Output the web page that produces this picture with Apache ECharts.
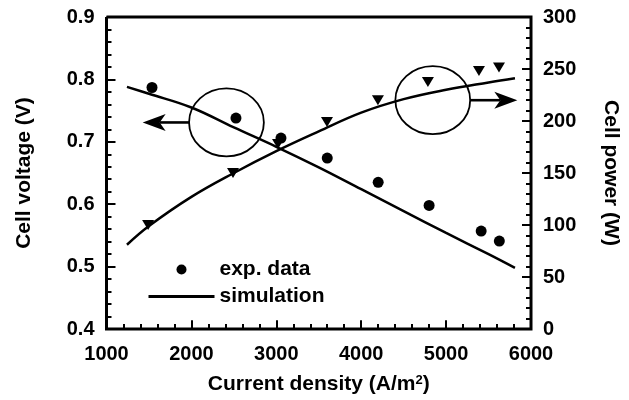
<!DOCTYPE html>
<html>
<head>
<meta charset="utf-8">
<script src="https://cdn.jsdelivr.net/npm/echarts@6/dist/echarts.min.js"></script>
<style>
html,body{margin:0;padding:0;background:#fff;}
#chart{width:629px;height:400px;}
</style>
</head>
<body>
<div id="chart"></div>
<script>
// ---- data ----
const xTicks = [1000, 2000, 3000, 4000, 5000, 6000];
const voltageTicks = [0.4, 0.5, 0.6, 0.7, 0.8, 0.9];
const powerTicks = [0, 50, 100, 150, 200, 250, 300];

const currentExpV = [1536, 2525, 3055, 3600, 4200, 4800, 5413, 5627];
const voltageExp  = [0.787, 0.738, 0.706, 0.674, 0.635, 0.598, 0.557, 0.541];

const currentExpP = [1490, 2490, 3020, 3597, 4197, 4786, 5387, 5623];
const powerExp    = [100, 150, 178, 199, 220, 237.6, 248, 251.5];

const currentSim  = [1241, 1500, 2000, 2500, 3000, 3500, 4000, 4500, 5000, 5500, 5811];
const voltageSim  = [0.788, 0.777, 0.755, 0.723, 0.692, 0.659, 0.624, 0.589, 0.554, 0.520, 0.498];
const powerSim    = [81, 99, 127, 150, 171, 190, 208, 221, 230, 237, 241];

// annotation anchors (data coordinates): ellipse centre and arrow tip
const annotationLeft  = [[2413, 0.731, 1426, 0.731]];
const annotationRight = [[4843, 220, 5839, 220]];

const zip = (xs, ys) => xs.map((x, i) => [x, ys[i]]);
const FONT = "'Liberation Sans', Arial, sans-serif";
const MINOR = 5;
const GRID = { left: 106.5, right: 98, top: 17, bottom: 65.5 };

const chart = echarts.init(document.getElementById('chart'));

const xMin = xTicks[0], xMax = xTicks[xTicks.length - 1];
const vMin = voltageTicks[0], vMax = voltageTicks[voltageTicks.length - 1];
const pMin = powerTicks[0], pMax = powerTicks[powerTicks.length - 1];
const plotW = chart.getWidth() - GRID.left - GRID.right;
const plotH = chart.getHeight() - GRID.top - GRID.bottom;
// pixel tick lengths expressed in each axis' data units
const pxX = (xMax - xMin) / plotW, pxV = (vMax - vMin) / plotH, pxP = (pMax - pMin) / plotH;

function tickValues(vals) {
  const out = [];
  for (let i = 0; i < vals.length; i++) {
    out.push([vals[i], 9]);
    if (i < vals.length - 1) {
      const step = (vals[i + 1] - vals[i]) / MINOR;
      for (let k = 1; k < MINOR; k++) out.push([vals[i] + k * step, 5]);
    }
  }
  return out;
}
const frameCoords = [{ coords: [[xMin, vMax], [xMax, vMax], [xMax, vMin], [xMin, vMin], [xMin, vMax]] }];
const xTickSegs = tickValues(xTicks).map(([v, l]) => ({ coords: [[v, vMin], [v, vMin + l * pxV]] }));
const vTickSegs = tickValues(voltageTicks).map(([v, l]) => ({ coords: [[xMin, v], [xMin + l * pxX, v]] }));
const pTickSegs = tickValues(powerTicks).map(([v, l]) => ({ coords: [[xMax, v], [xMax - l * pxX, v]] }));

const axisCommon = {
  type: 'value',
  axisLine: { show: false },
  axisTick: { show: false },
  minorTick: { show: false },
  splitLine: { show: false },
  axisLabel: { color: '#000', fontFamily: FONT, fontWeight: 'bold', fontSize: 20 },
  nameLocation: 'middle',
  nameTextStyle: { color: '#000', fontFamily: FONT, fontWeight: 'bold', fontSize: 21 }
};

function renderAnnotation(params, api) {
  const c = api.coord([api.value(0), api.value(1)]);
  const t = api.coord([api.value(2), api.value(3)]);
  const rx = 37.4, ry = 34;
  const dir = t[0] < c[0] ? -1 : 1;
  const headLen = 23, headHalf = 8.5, notch = 6;
  return { type: 'group', children: [
    { type: 'ellipse', shape: { cx: c[0], cy: c[1], rx: rx, ry: ry }, style: { fill: null, stroke: '#000', lineWidth: 1.8 } },
    { type: 'line', shape: { x1: c[0] + dir * rx, y1: c[1], x2: t[0] - dir * (headLen - notch), y2: c[1] }, style: { stroke: '#000', lineWidth: 2.6 } },
    { type: 'polygon', shape: { points: [
        [t[0], c[1]],
        [t[0] - dir * headLen, c[1] - headHalf],
        [t[0] - dir * (headLen - notch), c[1]],
        [t[0] - dir * headLen, c[1] + headHalf]
      ] }, style: { fill: '#000', stroke: null } }
  ] };
}

const segStyle = (w) => ({ color: '#000', width: w, opacity: 1, curveness: 0 });

const option = {
  animation: false,
  grid: GRID,
  legend: {
    orient: 'vertical',
    left: 147, top: 259,
    padding: 0,
    itemWidth: 66, itemHeight: 10, itemGap: 6,
    selectedMode: false,
    textStyle: { color: '#000', fontFamily: FONT, fontWeight: 'bold', fontSize: 21 },
    data: [
      { name: 'exp. data', icon: 'circle', itemStyle: { color: '#000' } },
      { name: 'simulation', itemStyle: { color: 'rgba(0,0,0,0)', borderWidth: 0, opacity: 0 }, lineStyle: { color: '#000', width: 3 } }
    ]
  },
  xAxis: Object.assign({}, axisCommon, {
    min: xMin, max: xMax, interval: xTicks[1] - xTicks[0],
    axisLabel: Object.assign({}, axisCommon.axisLabel, { margin: 15, formatter: v => String(v) }),
    name: 'Current density (A/m{sup|2})',
    nameGap: 45,
    nameTextStyle: Object.assign({}, axisCommon.nameTextStyle, {
      rich: { sup: { fontFamily: FONT, fontWeight: 'bold', fontSize: 13, verticalAlign: 'top', lineHeight: 13, color: '#000' } }
    })
  }),
  yAxis: [
    Object.assign({}, axisCommon, {
      position: 'left',
      min: vMin, max: vMax, interval: 0.1,
      axisLabel: Object.assign({}, axisCommon.axisLabel, { margin: 12, formatter: v => v.toFixed(1) }),
      name: 'Cell voltage (V)', nameGap: 72, nameRotate: 90
    }),
    Object.assign({}, axisCommon, {
      position: 'right',
      min: pMin, max: pMax, interval: 50,
      axisLabel: Object.assign({}, axisCommon.axisLabel, { margin: 12, formatter: v => String(v) }),
      name: 'Cell power (W)', nameGap: 69, nameRotate: -90
    })
  ],
  series: [
    { name: 'exp. data', type: 'scatter', yAxisIndex: 1, data: zip(currentExpP, powerExp),
      symbol: 'triangle', symbolRotate: 180, symbolSize: [12, 10], itemStyle: { color: '#000', opacity: 1 }, z: 3 },
    { name: 'exp. data', type: 'scatter', yAxisIndex: 0, data: zip(currentExpV, voltageExp),
      symbol: 'circle', symbolSize: 11, itemStyle: { color: '#000', opacity: 1 }, z: 4 },
    { name: 'simulation', type: 'line', yAxisIndex: 0, data: zip(currentSim, voltageSim),
      smooth: 0.4, symbol: 'none', lineStyle: { color: '#000', width: 2.5 }, z: 2 },
    { name: 'simulation', type: 'line', yAxisIndex: 1, data: zip(currentSim, powerSim),
      smooth: 0.4, symbol: 'none', lineStyle: { color: '#000', width: 2.5 }, z: 2 },
    { name: 'noteL', type: 'custom', yAxisIndex: 0, data: annotationLeft, renderItem: renderAnnotation, silent: true, z: 7 },
    { name: 'noteR', type: 'custom', yAxisIndex: 1, data: annotationRight, renderItem: renderAnnotation, silent: true, z: 7 },
    // frame and inward ticks, drawn as line segments in the axes' data space
    { name: 'frame', type: 'lines', coordinateSystem: 'cartesian2d', yAxisIndex: 0, polyline: true, clip: false,
      data: frameCoords, lineStyle: segStyle(3), silent: true, z: 8 },
    { name: 'ticksX', type: 'lines', coordinateSystem: 'cartesian2d', yAxisIndex: 0, clip: false,
      data: xTickSegs, lineStyle: segStyle(2), silent: true, z: 8 },
    { name: 'ticksV', type: 'lines', coordinateSystem: 'cartesian2d', yAxisIndex: 0, clip: false,
      data: vTickSegs, lineStyle: segStyle(2), silent: true, z: 8 },
    { name: 'ticksP', type: 'lines', coordinateSystem: 'cartesian2d', yAxisIndex: 1, clip: false,
      data: pTickSegs, lineStyle: segStyle(2), silent: true, z: 8 }
  ]
};

chart.setOption(option);
</script>
</body>
</html>
